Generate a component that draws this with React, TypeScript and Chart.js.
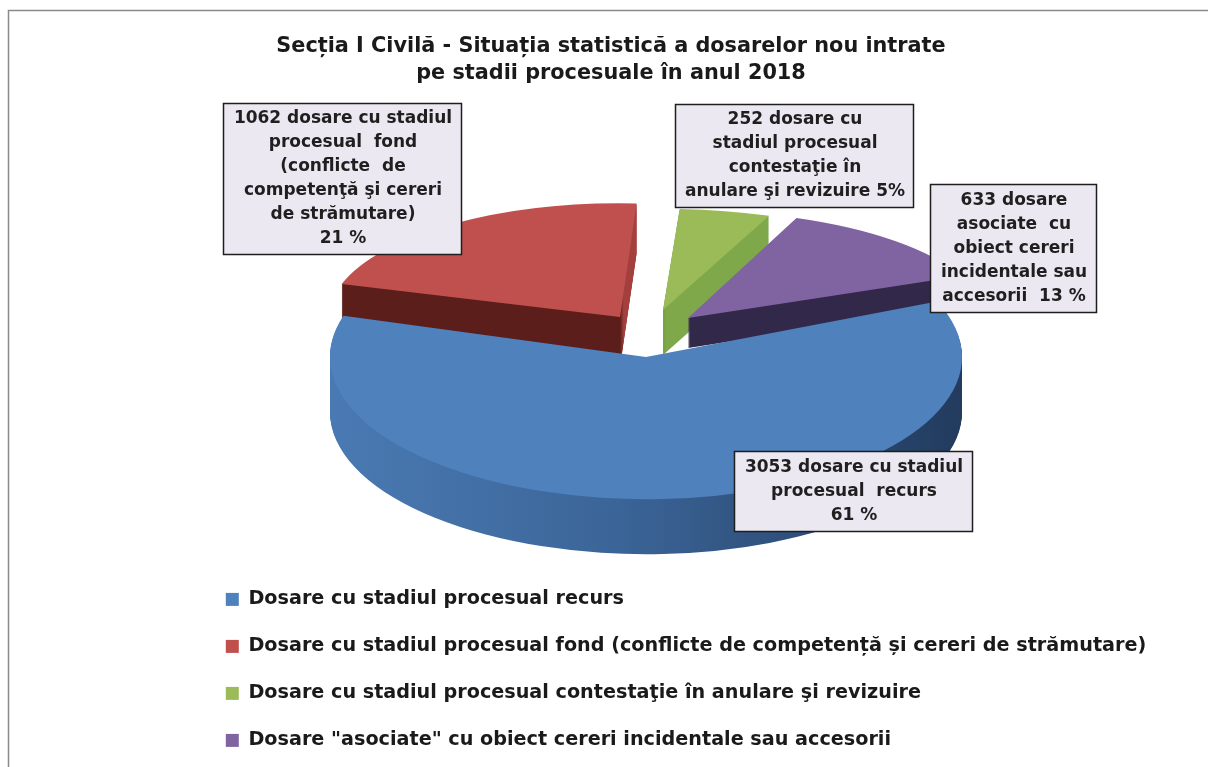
import React, { useEffect, useRef } from "react";
import { Chart, registerables } from "chart.js";

Chart.register(...registerables);

// ---------- data ----------
const TITLE_LINES = [
  "Secția I Civilă - Situația statistică a dosarelor nou intrate",
  "pe stadii procesuale în anul 2018",
];

const CATEGORIES = [
  "Dosare cu stadiul procesual recurs",
  "Dosare cu stadiul procesual fond (conflicte de competență și cereri de strămutare)",
  "Dosare cu stadiul procesual contestaţie în anulare şi revizuire",
  'Dosare "asociate" cu obiect cereri incidentale sau accesorii',
];

const VALUES = [3053, 1062, 252, 633];

// data-label text ({v} = value, {p} = percent)
const LABEL_LINES = [
  ["{v} dosare cu stadiul", "procesual  recurs", "{p} %"],
  ["{v} dosare cu stadiul", "procesual  fond", "(conflicte  de", "competenţă şi cereri", "de strămutare)", "{p} %"],
  ["{v} dosare cu", "stadiul procesual", "contestaţie în", "anulare şi revizuire {p}%"],
  ["{v} dosare", "asociate  cu", "obiect cereri", "incidentale sau", "accesorii  {p} %"],
];

// ---------- styles ----------
const FONT = "'DejaVu Sans'";
const TOP_COLORS = ["#4f81bd", "#c0504d", "#9bbb59", "#8064a2"];
// side colours: [main face, right-hand face]
const SIDE_COLORS = [
  ["#4a7ab3", "#3b6598", "#223b5e"],
  ["#5b1e1b", "#a33f3c"],
  ["#75a03e", "#7ea84a"],
  ["#31284a", "#31284a"],
];

// per-slice placement of the (exploded) slice apex, squash and thickness
const APEX_X = [646, 620, 663, 688];
const APEX_Y = [357, 317, 310, 318];
const SCALE_X = [1.0, 0.92, 0.92, 0.94];
const SCALE_Y = [0.45, 0.36, 0.32, 0.34];
const DEPTH = [55, 50, 45, 30];
const DRAW_ORDER = [1, 2, 3, 0];

// label boxes: [x, y, w, h]
const LABEL_BOXES = [
  [734, 451, 238, 80],
  [223, 103, 238, 151],
  [675, 104, 238, 103],
  [930, 184, 166, 128],
];
const LABEL_LINE_HEIGHT = 24;

const framePlugin = {
  id: "frame",
  afterLayout(chart: any) {
    // let the legend rows run past the title's centring box without being clipped
    const lg = chart.legend;
    if (lg) {
      lg.right = chart.width;
      lg.width = lg.right - lg.left;
    }
  },
  beforeDraw(chart: any) {
    const ctx = chart.ctx;
    ctx.save();
    ctx.fillStyle = "#ffffff";
    ctx.fillRect(0, 0, chart.width, chart.height);
    ctx.strokeStyle = "#8a8a8a";
    ctx.lineWidth = 1.5;
    ctx.beginPath();
    ctx.moveTo(8.5, chart.height + 5);
    ctx.lineTo(8.5, 10.5);
    ctx.lineTo(chart.width + 5, 10.5);
    ctx.stroke();
    ctx.restore();
  },
};

const pie3dPlugin = {
  id: "pie3d",
  beforeDatasetDraw(chart: any, args: any) {
    const arcs = args.meta.data;
    if (!arcs || !arcs.length) return;
    const ctx = chart.ctx;
    const cx = arcs[0].x;
    const cy = arcs[0].y;
    const R = arcs[0].outerRadius;

    const place = (i: number, dy: number) => {
      ctx.translate(APEX_X[i], APEX_Y[i] + dy);
      ctx.scale(SCALE_X[i], SCALE_Y[i]);
      ctx.translate(-cx, -cy);
    };
    const drawWith = (arc: any, color: any) => {
      const p = Object.create(arc);
      p.options = Object.assign({}, arc.options, { backgroundColor: color, borderWidth: 0, offset: 0 });
      arc.draw.call(p, ctx);
    };
    const sideFill = (i: number) => {
      const c = SIDE_COLORS[i];
      if (i === 0) {
        const g = ctx.createLinearGradient(cx - R, 0, cx + R, 0);
        g.addColorStop(0, c[0]);
        g.addColorStop(0.45, c[1]);
        g.addColorStop(1, c[2]);
        return g;
      }
      const g = ctx.createLinearGradient(cx, 0, cx + 4, 0);
      g.addColorStop(0, c[0]);
      g.addColorStop(1, c[1]);
      return g;
    };

    for (const i of DRAW_ORDER) {
      const arc = arcs[i];
      for (let d = DEPTH[i]; d >= 1; d--) {
        ctx.save();
        place(i, d);
        drawWith(arc, sideFill(i));
        ctx.restore();
      }
      ctx.save();
      place(i, 0);
      arc.draw(ctx);
      ctx.restore();
    }
    return false;
  },
};

const labelPlugin = {
  id: "sliceLabels",
  afterDraw(chart: any) {
    const ctx = chart.ctx;
    const data: number[] = chart.data.datasets[0].data;
    const total = data.reduce((a, b) => a + b, 0);
    ctx.save();
    LABEL_BOXES.forEach((b, i) => {
      const [x, y, w, h] = b;
      ctx.fillStyle = "#ebe8f1";
      ctx.fillRect(x, y, w, h);
      ctx.strokeStyle = "#1e1e1e";
      ctx.lineWidth = 1.5;
      ctx.strokeRect(x + 0.5, y + 0.5, w, h);
      const pct = Math.round((data[i] / total) * 100);
      const lines = LABEL_LINES[i].map((s) => s.replace("{v}", String(data[i])).replace("{p}", String(pct)));
      ctx.fillStyle = "#1f1f1f";
      ctx.font = "bold 17px " + FONT;
      ctx.textAlign = "center";
      ctx.textBaseline = "middle";
      const startY = y + (h - lines.length * LABEL_LINE_HEIGHT) / 2 + 0.5;
      lines.forEach((ln, j) => {
        ctx.fillText(ln, x + w / 2 + 1, startY + LABEL_LINE_HEIGHT * (j + 0.5));
      });
    });
    ctx.restore();
  },
};

export default function App() {
  const ref = useRef<HTMLCanvasElement | null>(null);
  useEffect(() => {
    if (!ref.current) return;
    const chart = new Chart(ref.current, {
      type: "pie",
      data: {
        labels: CATEGORIES,
        datasets: [
          {
            data: VALUES,
            backgroundColor: TOP_COLORS,
            borderWidth: 0,
            hoverOffset: 0,
          },
        ],
      },
      options: {
        animation: false,
        responsive: false,
        events: [],
        rotation: 67,
        radius: 316,
        layout: { padding: { left: 198, right: 184, top: 0, bottom: 7 } },
        plugins: {
          title: {
            display: true,
            text: TITLE_LINES,
            color: "#1a1a1a",
            font: { family: "DejaVu Sans", size: 20.8, weight: "bold", lineHeight: 1.3 },
            padding: { top: 33, bottom: 0 },
          },
          legend: {
            position: "bottom",
            align: "start",
            labels: {
              boxWidth: 13,
              boxHeight: 13,
              padding: 27.8,
              color: "#1a1a1a",
              font: { family: "DejaVu Sans", size: 19.2, weight: "bold" },
            },
          },
          tooltip: { enabled: false },
        },
      } as any,
      plugins: [framePlugin, pie3dPlugin, labelPlugin],
    });
    return () => chart.destroy();
  }, []);
  return (
    <div style={{ position: "absolute", left: 0, top: 0, width: 1208, height: 767 }}>
      <canvas ref={ref} width={1208} height={767} style={{ display: "block" }} />
    </div>
  );
}
